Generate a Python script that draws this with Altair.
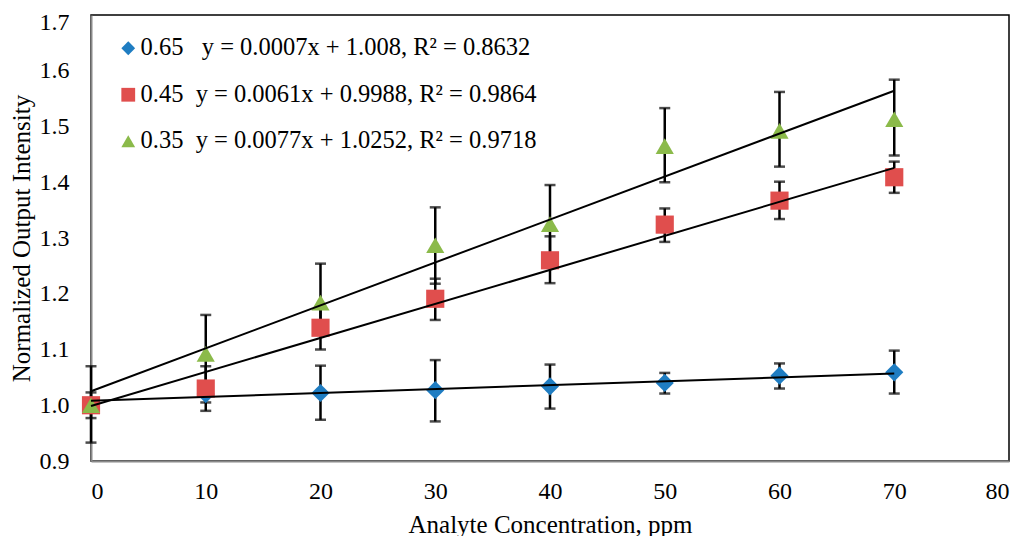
import altair as alt
import pandas as pd

# series labels shown in the legend (ratio + fitted trend line)
series = ["0.65", "0.45", "0.35"]
legend_labels = [
    "0.65\u00a0\u00a0 y = 0.0007x + 1.008, R\u00b2 = 0.8632",
    "0.45\u00a0 y = 0.0061x + 0.9988, R\u00b2 = 0.9864",
    "0.35\u00a0 y = 0.0077x + 1.0252, R\u00b2 = 0.9718",
]
colors = ["#1F7DC2", "#E04E4D", "#8BBA4A"]
shapes = ["diamond", "square", "triangle-up"]

conc = [0, 10, 20, 30, 40, 50, 60, 70]

y_065 = [1.000, 1.020, 1.022, 1.027, 1.034, 1.040, 1.053, 1.059]
lo_065 = [0.933, 1.005, 0.974, 0.971, 0.994, 1.021, 1.030, 1.021]
hi_065 = [1.070, 1.035, 1.071, 1.081, 1.073, 1.058, 1.075, 1.098]

y_045 = [1.000, 1.030, 1.139, 1.191, 1.260, 1.324, 1.367, 1.409]
lo_045 = [0.977, 0.990, 1.100, 1.153, 1.219, 1.293, 1.334, 1.381]
hi_045 = [1.023, 1.070, 1.175, 1.227, 1.303, 1.353, 1.401, 1.437]

y_035 = [1.000, 1.092, 1.184, 1.287, 1.325, 1.465, 1.492, 1.513]
lo_035 = [1.000, 1.022, 1.130, 1.218, 1.258, 1.400, 1.428, 1.448]
hi_035 = [1.000, 1.162, 1.254, 1.355, 1.395, 1.533, 1.562, 1.584]

# trend line coefficients from the fitted equations
slopes = [0.0007, 0.0061, 0.0077]
intercepts = [1.008, 0.9988, 1.0252]
fit_range = [0, 70]

rows = []
for lab, ys, los, his in zip(legend_labels, [y_065, y_045, y_035],
                             [lo_065, lo_045, lo_035], [hi_065, hi_045, hi_035]):
    for x, y, lo, hi in zip(conc, ys, los, his):
        rows.append({"series": lab, "x": x, "y": y, "lo": lo, "hi": hi})
df = pd.DataFrame(rows)

fit_rows = []
for lab, m, b in zip(legend_labels, slopes, intercepts):
    for x in fit_range:
        fit_rows.append({"series": lab, "x": x, "y": m * x + b})
fit = pd.DataFrame(fit_rows)

font = "Liberation Serif, Times New Roman, serif"

x_enc = alt.X("x:Q", scale=alt.Scale(domain=[0, 80], nice=False),
              axis=alt.Axis(values=list(range(0, 90, 10)),
                            title="Analyte Concentration, ppm"))
y_scale = alt.Scale(domain=[0.9, 1.7], nice=False, zero=False)

base = alt.Chart(df)

bars = base.mark_rule(color="black", strokeWidth=2.5).encode(
    x=x_enc,
    y=alt.Y("lo:Q", scale=y_scale,
            axis=alt.Axis(values=[0.9, 1.0, 1.1, 1.2, 1.3, 1.4, 1.5, 1.6, 1.7],
                          format=".1f", title="Normalized Output Intensity",
                          labelOffset=alt.condition("datum.value >= 1.69",
                                                    alt.value(7), alt.value(0)))),
    y2="hi:Q",
)
caps_lo = base.mark_tick(color="black", orient="horizontal", size=11, thickness=2.5).encode(
    x="x:Q", y="lo:Q"
)
caps_hi = base.mark_tick(color="black", orient="horizontal", size=11, thickness=2.5).encode(
    x="x:Q", y="hi:Q"
)

points = base.mark_point(filled=True, size=330, opacity=1).encode(
    x="x:Q",
    y="y:Q",
    color=alt.Color("series:N", scale=alt.Scale(domain=legend_labels, range=colors),
                    legend=alt.Legend(title=None, orient="none", legendX=25, legendY=21,
                                      labelFont=font, labelFontSize=24.5, labelColor="black",
                                      symbolSize=190, symbolStrokeWidth=0,
                                      rowPadding=21.5, labelOffset=0, labelLimit=600)),
    shape=alt.Shape("series:N", scale=alt.Scale(domain=legend_labels, range=shapes)),
    order=alt.Order("order:Q"),
).transform_calculate(order="indexof(%s, datum.series)" % str(legend_labels))

trend = alt.Chart(fit).mark_line(color="black", strokeWidth=2).encode(
    x="x:Q", y="y:Q", detail="series:N"
)

chart = alt.layer(bars, caps_lo, caps_hi, points, trend).properties(
    width=918,
    height=446,
    autosize=alt.AutoSizeParams(type="none"),
    padding={"left": 83, "top": 7, "right": 7, "bottom": 75},
).configure(
    font=font
).configure_view(
    stroke="black", strokeWidth=1.5
).configure_axis(
    grid=False, ticks=False, tickSize=0, domainColor="#8a8a8a", domainWidth=2,
    labelFont=font, labelFontSize=24, labelColor="black",
    titleFont=font, titleFontSize=25, titleFontWeight="normal", titleColor="black",
).configure_axisX(
    labelPadding=18, titlePadding=9
).configure_axisY(
    labelPadding=22, titlePadding=5
)

chart.save("out.html", embed_options={"renderer": "svg", "actions": False})
